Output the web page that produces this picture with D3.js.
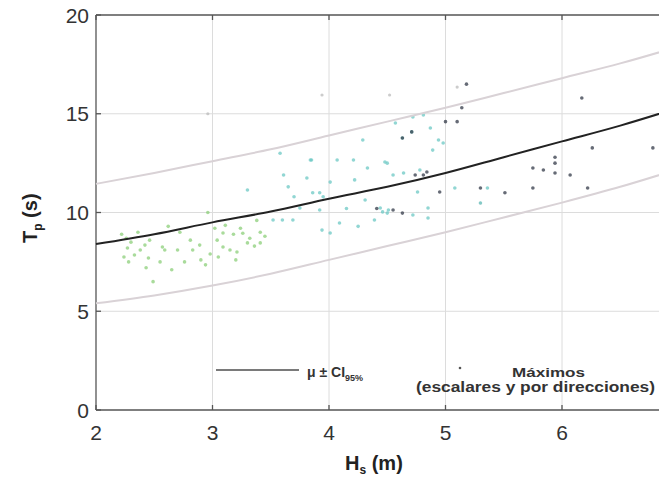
<!DOCTYPE html>
<html>
<head>
<meta charset="utf-8">
<script src="https://cdn.jsdelivr.net/npm/d3@7"></script>
<style>
  body { margin: 0; background: #fff; }
  svg { display: block; font-family: "Liberation Sans", Arial, sans-serif; }
</style>
</head>
<body>
<svg id="chart" width="659" height="483"></svg>
<script>
// curve values (Hs in m, Tp in s)
const HS_CURVE = [2, 2.5, 3, 3.5, 4, 4.5, 5, 5.5, 6, 6.5, 7];
const MEAN = [8.4, 8.9, 9.5, 10.05, 10.7, 11.3, 12.0, 12.8, 13.6, 14.4, 15.3];
const UPPER = [11.45, 12.0, 12.6, 13.2, 13.9, 14.6, 15.3, 16.05, 16.8, 17.55, 18.4];
const LOWER = [5.4, 5.8, 6.3, 6.9, 7.6, 8.3, 9.0, 9.75, 10.5, 11.3, 12.2];

const X_TICKS = [2, 3, 4, 5, 6];
const Y_TICKS = [0, 5, 10, 15, 20];

// maxima, grouped by the colour they carry in the figure
const PTS_GREEN = [
  [2.22, 8.9], [2.26, 8.7], [2.30, 8.5], [2.27, 8.2], [2.24, 7.75], [2.33, 7.85],
  [2.28, 7.5], [2.38, 8.1], [2.42, 8.35], [2.45, 7.7], [2.43, 7.2], [2.49, 6.5],
  [2.55, 7.5], [2.59, 8.1], [2.65, 7.1], [2.57, 8.25], [2.70, 8.1], [2.76, 7.5],
  [2.81, 8.6], [2.83, 8.1], [2.89, 8.35], [2.96, 10.0], [2.94, 7.35], [3.04, 8.6],
  [3.09, 8.25], [3.15, 8.1], [3.21, 8.0], [3.26, 8.95], [3.30, 8.46], [3.09, 8.96],
  [3.18, 8.9], [3.02, 9.2], [3.11, 9.35], [3.24, 9.2], [3.32, 8.7], [3.36, 8.3],
  [3.41, 9.0], [2.98, 7.9], [2.90, 7.6], [2.72, 9.0], [2.46, 8.6], [2.36, 9.0],
  [3.05, 7.75], [3.20, 7.6], [3.45, 8.8], [3.38, 9.6], [2.62, 9.3], [3.41, 8.46]
];
const PTS_CYAN = [
  [3.61, 11.9], [3.85, 12.66], [4.07, 12.66], [3.81, 11.75], [4.01, 11.54], [4.22, 11.65],
  [4.33, 12.25], [4.50, 12.5], [4.55, 11.9], [3.86, 11.0], [3.95, 10.8], [3.92, 10.13],
  [3.75, 10.23], [3.60, 9.62], [3.69, 9.62], [3.52, 9.62], [3.94, 9.11], [4.01, 8.96],
  [4.09, 9.47], [4.31, 10.63], [4.39, 9.62], [4.44, 10.23], [4.51, 10.13], [3.30, 11.14],
  [4.57, 14.53], [4.71, 14.08], [4.63, 13.77], [4.87, 14.28], [4.94, 13.67], [4.89, 13.16],
  [4.98, 13.52], [4.48, 12.56], [4.64, 12.0], [4.78, 12.15], [4.76, 11.04], [5.08, 11.24],
  [5.36, 11.24], [5.30, 10.48], [4.46, 10.03], [4.72, 9.87], [4.85, 10.23], [4.85, 9.72],
  [4.50, 9.97], [4.72, 14.84], [4.81, 14.94], [4.29, 13.67], [4.21, 12.66], [3.58, 13.0],
  [3.84, 12.66], [3.92, 11.0], [3.70, 10.8], [4.15, 10.2], [4.25, 9.3], [3.65, 11.3]
];
const PTS_DARK = [
  [5.18, 16.5], [5.14, 15.3], [5.10, 14.6], [5.00, 14.6], [4.81, 11.9], [4.95, 11.04],
  [5.30, 11.24], [5.51, 11.0], [5.75, 11.24], [5.75, 12.25], [5.84, 12.15], [5.94, 12.8],
  [5.94, 12.5], [5.94, 12.0], [6.07, 11.9], [6.22, 11.24], [6.17, 15.8], [6.26, 13.27],
  [6.78, 13.27], [4.63, 9.97], [4.41, 10.2], [4.55, 10.13], [4.71, 14.08], [4.63, 13.77],
  [4.74, 11.9], [4.84, 12.05]
];
const PTS_GREY = [[2.96, 15.0], [3.94, 15.95], [4.52, 15.95], [5.10, 16.35], [5.30, 10.48]];

const svg = d3.select('#chart');
const x = d3.scaleLinear().domain([2, 7]).range([96, 678.5]);
const y = d3.scaleLinear().domain([0, 20]).range([410, 15]);

// grid
const grid = svg.append('g').attr('stroke', '#dcdcdc').attr('stroke-width', 1);
X_TICKS.slice(1).forEach(t => {
  grid.append('line').attr('x1', x(t)).attr('x2', x(t)).attr('y1', y(0)).attr('y2', y(20));
});
Y_TICKS.slice(1, -1).forEach(t => {
  grid.append('line').attr('x1', x(2)).attr('x2', x(7)).attr('y1', y(t)).attr('y2', y(t));
});

// axes box
const frame = svg.append('g').attr('stroke', '#555').attr('stroke-width', 1.3);
frame.append('line').attr('x1', x(2)).attr('x2', x(2)).attr('y1', y(0)).attr('y2', y(20));
frame.append('line').attr('x1', x(2)).attr('x2', x(7)).attr('y1', y(20)).attr('y2', y(20));
frame.append('line').attr('x1', x(2)).attr('x2', x(7)).attr('y1', y(0)).attr('y2', y(0));
X_TICKS.forEach(t => {
  frame.append('line').attr('x1', x(t)).attr('x2', x(t)).attr('y1', y(0)).attr('y2', y(0) - 5);
  frame.append('line').attr('x1', x(t)).attr('x2', x(t)).attr('y1', y(20)).attr('y2', y(20) + 5);
});
Y_TICKS.forEach(t => {
  frame.append('line').attr('x1', x(2)).attr('x2', x(2) + 5).attr('y1', y(t)).attr('y2', y(t));
});

// tick labels
svg.append('g').selectAll('text').data(X_TICKS).join('text')
  .attr('x', d => x(d)).attr('y', 440)
  .attr('text-anchor', 'middle').attr('font-size', 21).attr('fill', '#333')
  .text(d => d);
svg.append('g').selectAll('text').data(Y_TICKS).join('text')
  .attr('x', 89).attr('y', d => y(d) + 7.5)
  .attr('text-anchor', 'end').attr('font-size', 21).attr('fill', '#333')
  .text(d => d);

// axis titles
const xt = svg.append('text').attr('x', 345).attr('y', 470)
  .attr('font-size', 20).attr('font-weight', 'bold').attr('fill', '#222');
xt.append('tspan').text('H');
xt.append('tspan').attr('font-size', 12).attr('dy', 4).text('s');
xt.append('tspan').attr('dy', -4).text(' (m)');

const yt = svg.append('text').attr('transform', 'translate(37,243) rotate(-90)')
  .attr('font-size', 20).attr('font-weight', 'bold').attr('fill', '#222');
yt.append('tspan').text('T');
yt.append('tspan').attr('font-size', 12).attr('dy', 5).text('p');
yt.append('tspan').attr('dy', -5).text(' (s)');

// points
const plot = svg.append('g');
function dots(data, color, r) {
  plot.append('g').selectAll('circle').data(data).join('circle')
    .attr('cx', d => x(d[0])).attr('cy', d => y(d[1]))
    .attr('r', r).attr('fill', color).attr('opacity', 0.75);
}
dots(PTS_GREY, '#bbbbbb', 1.6);
dots(PTS_GREEN, '#8ccf7a', 1.8);
dots(PTS_CYAN, '#6cc8c4', 1.8);
dots(PTS_DARK, '#333a48', 1.8);

// curves
const pairs = arr => HS_CURVE.map((h, i) => [h, arr[i]]);
const line = d3.line().x(d => x(d[0])).y(d => y(d[1])).curve(d3.curveMonotoneX);
[UPPER, LOWER].forEach(arr => {
  svg.append('path').datum(pairs(arr)).attr('d', line)
    .attr('fill', 'none').attr('stroke', '#d9d2d6').attr('stroke-width', 2);
});
svg.append('path').datum(pairs(MEAN)).attr('d', line)
  .attr('fill', 'none').attr('stroke', '#222').attr('stroke-width', 2);

// legend
svg.append('line').attr('x1', 216).attr('x2', 299).attr('y1', 370).attr('y2', 370)
  .attr('stroke', '#7a7a7a').attr('stroke-width', 2.2);
const lt = svg.append('text').attr('x', 307).attr('y', 377)
  .attr('font-size', 14).attr('font-weight', 'bold').attr('fill', '#333');
lt.append('tspan').text('μ ± CI');
lt.append('tspan').attr('font-size', 9).attr('dy', 4).text('95%');

svg.append('circle').attr('cx', 460).attr('cy', 368).attr('r', 1.3).attr('fill', '#555');
svg.append('text').attr('x', 512).attr('y', 377)
  .attr('textLength', 73).attr('lengthAdjust', 'spacingAndGlyphs')
  .attr('font-size', 13).attr('font-weight', 'bold').attr('fill', '#333').text('Máximos');
svg.append('text').attr('x', 416).attr('y', 392)
  .attr('textLength', 239).attr('lengthAdjust', 'spacingAndGlyphs')
  .attr('font-size', 14).attr('font-weight', 'bold').attr('fill', '#333')
  .text('(escalares y por direcciones)');
</script>
</body>
</html>
